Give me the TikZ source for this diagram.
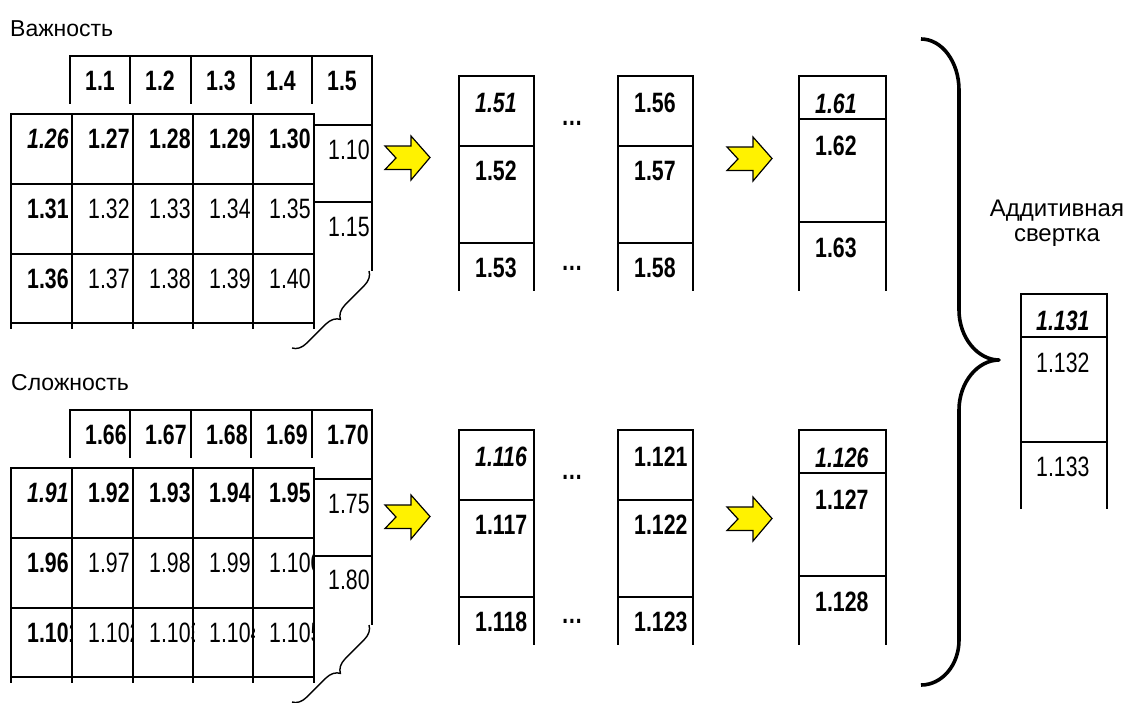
\documentclass[tikz,border=0pt]{standalone}
\usepackage{fontspec}
\setmainfont{Liberation Sans}
\newfontfamily\narrowfont[FakeStretch=0.76]{Liberation Sans}
\usetikzlibrary{decorations.pathreplacing}
\tikzstyle{tabline} = [line width=2.6pt,
                      line cap=rect]
\tikzstyle{num} = [anchor=base west,
                  inner sep=0pt,
                  font=\narrowfont\fontsize{28}{30}\selectfont]
\tikzstyle{bnum} = [num, font=\narrowfont\fontsize{28}{30}\selectfont\bfseries]
\tikzstyle{inum} = [num, font=\narrowfont\fontsize{28}{30}\selectfont\bfseries\itshape]
\tikzstyle{dots} = [anchor=base, inner sep=0pt,
                   font=\narrowfont\fontsize{28}{30}\selectfont\bfseries]
\tikzstyle{caption} = [anchor=base west, inner sep=0pt,
                      font=\fontsize{23}{26}\selectfont]
\tikzstyle{smallbrace} = [line width=1.4pt,
                         decorate,
                         decoration={brace, amplitude=14pt}]
\tikzstyle{bigbrace} = [line width=3.6pt, line join=round]
\tikzset{yarrow/.pic={
  \draw[fill=yellow, line width=1.2pt]
    (0,10) -- (26,10) -- (26,0) -- (45,21.5) -- (26,44) -- (26,33.5)
    -- (0,33.5) -- (11,22) -- cycle;}}

\begin{document}
\begin{tikzpicture}[x=1pt, y=-1pt]
    \useasboundingbox (0,0) rectangle (1130,702);

    % grids of both groups
    \foreach \dy in {0,354} {
      \begin{scope}[yshift=-\dy pt]
        \draw[tabline] (70,103) -- (70,56) -- (372,56) -- (372,270);
        \foreach \x in {130,191,251,312} \draw[tabline] (\x,56) -- (\x,103);
        \draw[tabline] (314,125) -- (372,125) (314,202) -- (372,202);
        \foreach \x in {11,72,133,193,253,314} \draw[tabline] (\x,114) -- (\x,328);
        \foreach \y in {114,184,254,323} \draw[tabline] (11,\y) -- (314,\y);
        \foreach \l/\r in {459/534, 618/693} {
          \draw[tabline] (\l,290) -- (\l,76) -- (\r,76) -- (\r,290);
          \draw[tabline] (\l,146) -- (\r,146) (\l,243) -- (\r,243);
        }
        \draw[tabline] (799,290) -- (799,76) -- (886,76) -- (886,290);
        \draw[tabline] (799,119) -- (886,119) (799,222) -- (886,222);
      \end{scope}
    }

    % Важность
    \node (imp) [caption] at (10,36) {Важность};
    \foreach \x/\lab [count=\i] in {70/1.1,130/1.2,191/1.3,251/1.4,312/1.5}
      \node (ih\i) [bnum] at (\x+15,90) {\lab};
    \node (ib1) [num] at (328,159) {1.10};
    \node (ib2) [num] at (328,236) {1.15};
    \foreach \x/\y/\st/\lab [count=\i] in {
        11/114/inum/1.26, 72/114/bnum/1.27, 133/114/bnum/1.28, 193/114/bnum/1.29, 253/114/bnum/1.30,
        11/184/bnum/1.31, 72/184/num/1.32, 133/184/num/1.33, 193/184/num/1.34, 253/184/num/1.35,
        11/254/bnum/1.36, 72/254/num/1.37, 133/254/num/1.38, 193/254/num/1.39, 253/254/num/1.40} {
      \begin{scope}
        \clip (\x,\y) rectangle ++(61,70);
        \node (if\i) [\st] at (\x+16,\y+34) {\lab};
      \end{scope}
    }
    \node (ia1) [inum] at (475,112) {1.51};
    \node (ia2) [bnum] at (475,180) {1.52};
    \node (ia3) [bnum] at (475,277) {1.53};
    \node (id1) [dots] at (572,125) {…};
    \node (id2) [dots] at (572,270) {…};
    \node (ic1) [bnum] at (634,112) {1.56};
    \node (ic2) [bnum] at (634,180) {1.57};
    \node (ic3) [bnum] at (634,277) {1.58};
    \node (is1) [inum] at (815,113) {1.61};
    \node (is2) [bnum] at (815,155) {1.62};
    \node (is3) [bnum] at (815,257) {1.63};

    % Сложность
    \node (cmp) [caption] at (11,390) {Сложность};
    \foreach \x/\lab [count=\i] in {70/1.66,130/1.67,191/1.68,251/1.69,312/1.70}
      \node (ch\i) [bnum] at (\x+15,444) {\lab};
    \node (cb1) [num] at (328,513) {1.75};
    \node (cb2) [num] at (328,589) {1.80};
    \foreach \x/\y/\st/\lab [count=\i] in {
        11/468/inum/1.91, 72/468/bnum/1.92, 133/468/bnum/1.93, 193/468/bnum/1.94, 253/468/bnum/1.95,
        11/538/bnum/1.96, 72/538/num/1.97, 133/538/num/1.98, 193/538/num/1.99, 253/538/num/1.100,
        11/608/bnum/1.101, 72/608/num/1.102, 133/608/num/1.103, 193/608/num/1.104, 253/608/num/1.105} {
      \begin{scope}
        \clip (\x,\y) rectangle ++(61,70);
        \node (cf\i) [\st] at (\x+16,\y+34) {\lab};
      \end{scope}
    }
    \node (ca1) [inum] at (475,466) {1.116};
    \node (ca2) [bnum] at (475,534) {1.117};
    \node (ca3) [bnum] at (475,631) {1.118};
    \node (cd1) [dots] at (572,479) {…};
    \node (cd2) [dots] at (572,623) {…};
    \node (cc1) [bnum] at (634,466) {1.121};
    \node (cc2) [bnum] at (634,534) {1.122};
    \node (cc3) [bnum] at (634,631) {1.123};
    \node (cs1) [inum] at (815,467) {1.126};
    \node (cs2) [bnum] at (815,509) {1.127};
    \node (cs3) [bnum] at (815,611) {1.128};

    % arrows and braces
    \pic at (385,136) {yarrow};
    \pic at (727,137) {yarrow};
    \pic at (385,495) {yarrow};
    \pic at (727,497) {yarrow};
    \draw[smallbrace] (369,271) -- (292,348);
    \draw[smallbrace] (369,625) -- (292,702);
    \draw[bigbrace] (921,39) .. controls (942,39) and (959,62) .. (959,90)
      -- (959,310) .. controls (959,338) and (978,360) .. (999,360)
      .. controls (978,360) and (959,382) .. (959,410)
      -- (959,640) .. controls (959,665) and (942,685) .. (921,685);

    % result
    \node (conv) [font=\fontsize{24}{25}\selectfont, align=center, inner sep=0pt]
      at (1057,223) {Аддитивная\\свертка};
    \draw[tabline] (1021,508) -- (1021,294) -- (1107,294) -- (1107,508);
    \draw[tabline] (1021,337) -- (1107,337) (1021,442) -- (1107,442);
    \node (r1) [inum] at (1036,330) {1.131};
    \node (r2) [num] at (1036,372) {1.132};
    \node (r3) [num] at (1036,476) {1.133};
\end{tikzpicture}
\end{document}
